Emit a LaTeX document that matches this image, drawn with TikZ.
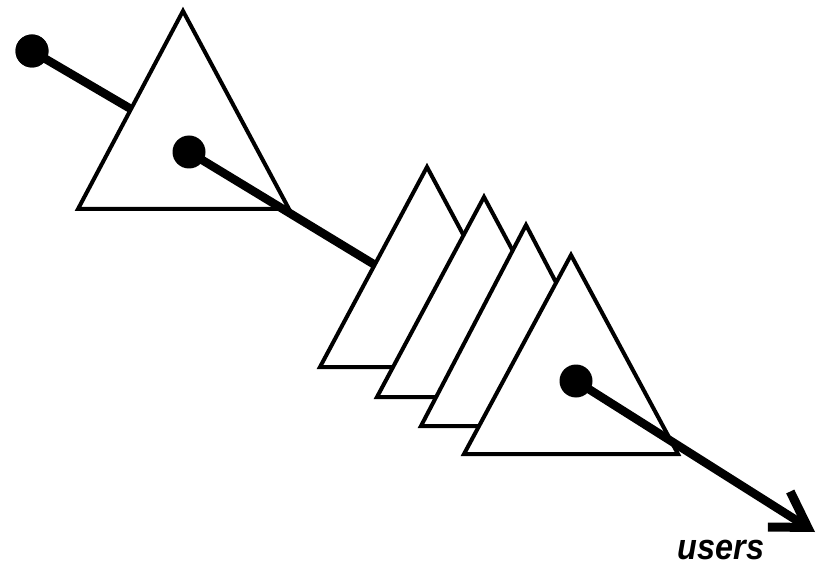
\documentclass[tikz,border=0pt]{standalone}
\usepackage{fontspec}
\setmainfont{Liberation Sans}
\usetikzlibrary{arrows.meta}
\begin{document}
\begin{tikzpicture}[x=1pt,y=-1pt,
  tri/.style={draw=black,fill=white,line width=4pt,line join=miter},
  wire/.style={draw=black,line width=8.5pt},
  dot/.style={circle,fill=black,inner sep=0pt,minimum size=33pt},
  lbl/.style={font=\fontsize{36}{36}\selectfont\bfseries\itshape,inner sep=0pt}]
\useasboundingbox (0,0) rectangle (829,569);
% coordinates
\coordinate (t0a) at (183,11); \coordinate (t0b) at (78,209); \coordinate (t0c) at (289,209);
\coordinate (s1a) at (427,167); \coordinate (s1b) at (320,367); \coordinate (s1c) at (534,367);
\coordinate (s2a) at (484,197); \coordinate (s2b) at (377,397); \coordinate (s2c) at (591,397);
\coordinate (s3a) at (526,225); \coordinate (s3b) at (421,426); \coordinate (s3c) at (631,426);
\coordinate (s4a) at (571,255); \coordinate (s4b) at (464,454); \coordinate (s4c) at (678,454);
\coordinate (e1) at (136,112);
\coordinate (e2) at (380,268);
\coordinate (e3) at (815,532);
% first wire and dot
\node[dot] (d1) at (32,51) {};
\draw[wire] (d1.center) -- (e1);
\node[dot] at (d1) {};
% first triangle
\path[tri] (t0a) -- (t0b) -- (t0c) -- cycle;
% second wire
\node[dot] (d2) at (189,152) {};
\draw[wire] (d2.center) -- (e2);
% stack
\path[tri] (s1a) -- (s1b) -- (s1c) -- cycle;
\path[tri] (s2a) -- (s2b) -- (s2c) -- cycle;
\path[tri] (s3a) -- (s3b) -- (s3c) -- cycle;
\path[tri] (s4a) -- (s4b) -- (s4c) -- cycle;
% output wire
\node[dot] (d3) at (576,381) {};
\draw[wire,-{Straight Barb[length=34pt,width=42pt,line width=9pt]}] (d3.center) -- (e3);
\node[lbl,xscale=0.9] (users) at (721,550) {users};
\end{tikzpicture}
\end{document}
